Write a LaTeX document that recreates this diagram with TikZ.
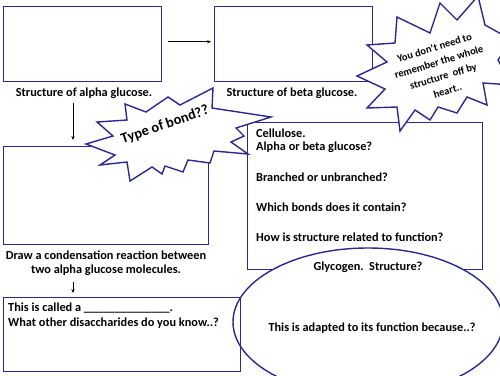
\documentclass[tikz,border=0pt]{standalone}
\usepackage{fontspec}
\setmainfont{Carlito}
\usetikzlibrary{shapes.geometric,arrows.meta}
\definecolor{boxblue}{RGB}{42,42,140}
\begin{document}
\begin{tikzpicture}[x=1pt,y=-1pt,
  box/.style={draw=boxblue, line width=1.4pt},
  boxnode/.style={box, inner sep=0pt, anchor=north west},
  lbl/.style={font=\bfseries\fontsize{12.3}{14}\selectfont, inner sep=0pt, text=black},
  llbl/.style={lbl, anchor=west},
  arr/.style={-{Stealth[length=4pt,width=3.2pt]}, line width=0.5pt, draw=black}]
\useasboundingbox (0,0) rectangle (500,375);
\clip (0,0) rectangle (500,375);
% boxes
\node[boxnode, minimum width=158pt, minimum height=75pt] (b1) at (3,6) {};
\node[boxnode, minimum width=158pt, minimum height=75pt] (b2) at (214,6) {};
\node[boxnode, minimum width=205pt, minimum height=98pt] (b3) at (3,146) {};
\node[boxnode, fill=white, minimum width=235pt, minimum height=147pt] (cel) at (247,122) {};
% stars
\draw[box, fill=white] (86,144) -- (113,136) -- (97,122) -- (127,120) -- (125,104)
  -- (146,112) -- (168,97) -- (180,105) -- (213,88) -- (212,108) -- (271,117)
  -- (236,128) -- (244,136) -- (231,142) -- (248,154) -- (214,151) -- (210,163)
  -- (188,160) -- (183,172) -- (165,166) -- (162,174) -- (152,167) -- (130,181)
  -- (127,162) -- (100,165) -- (115,155) -- cycle;
\draw[box, fill=white] (397,17) -- (430,33) -- (440,3) -- (457,20) -- (478,-4)
  -- (485,25) -- (512,40) -- (498,60) -- (512,85) -- (483,83) -- (487,105)
  -- (467,97) -- (457,113) -- (438,107) -- (430,120) -- (415,110) -- (400,131)
  -- (397,107) -- (367,108) -- (385,89) -- (357,76) -- (387,62) -- (367,45)
  -- (395,43) -- cycle;
% ellipse
\node[ellipse, box, fill=white, minimum width=270pt, minimum height=148pt, inner sep=0pt] (gly) at (368,322) {};
\node[boxnode, minimum width=237pt, minimum height=74pt] (b4) at (3,297) {};
% labels
\node[lbl] (l1) at (84,93) {Structure of alpha glucose.};
\node[lbl] (l2) at (292,93) {Structure of beta glucose.};
\node[lbl, align=center] (l3) at (106,263) {Draw a condensation reaction between\\two alpha glucose molecules.};
\node[llbl] (t4a) at (8,308) {This is called a \_\_\_\_\_\_\_\_\_\_\_\_\_\_.};
\node[llbl] (t4b) at (8,323) {What other disaccharides do you know..?};
\node[llbl] (c1) at (256,133) {Cellulose.};
\node[llbl] (c2) at (256,147) {Alpha or beta glucose?};
\node[llbl] (c3) at (256,177) {Branched or unbranched?};
\node[llbl] (c4) at (256,207) {Which bonds does it contain?};
\node[llbl] (c5) at (256,237) {How is structure related to function?};
\node[lbl] (g1) at (368,267) {Glycogen.\ \ Structure?};
\node[lbl] (g2) at (372,328) {This is adapted to its function because..?};
\node[lbl, font=\bfseries\fontsize{14.4}{16}\selectfont, rotate=19] (tb) at (165,125) {Type of bond??};
\node[lbl, font=\bfseries\fontsize{10.5}{15}\selectfont, rotate=17, align=center] (yd) at (441,69)
  {You don't need to\\remember the whole\\structure\ \ off by\\heart..};
% arrows
\draw[arr, shorten <=6pt, shorten >=3pt] ([yshift=2.5pt]b1.east) -- ([yshift=2.5pt]b1.east -| b2.west);
\draw[arr] ([yshift=-4pt]l1.south -| 73,0) -- ([yshift=6pt]b3.north -| 73,0);
\draw[arr] ([yshift=-6pt]l3.south -| 73,0) -- ([yshift=4pt]b4.north -| 73,0);
\end{tikzpicture}
\end{document}
